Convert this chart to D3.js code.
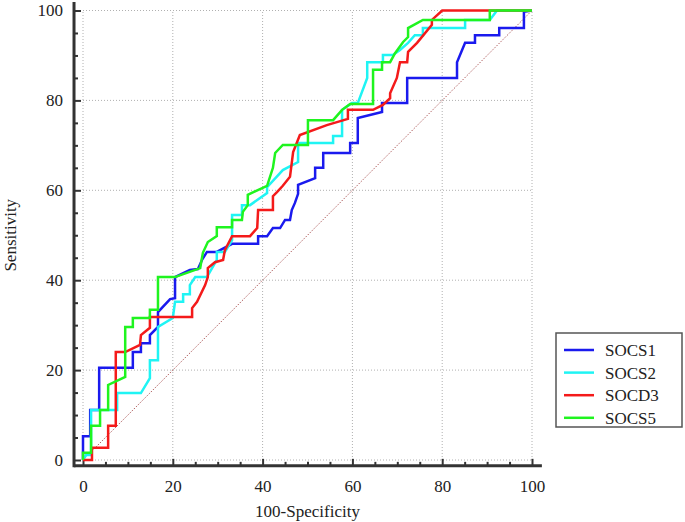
<!DOCTYPE html>
<html>
<head>
<meta charset="utf-8">
<script src="https://cdn.jsdelivr.net/npm/d3@7"></script>
<style>
  body { margin: 0; background: #fff; }
  text { font-family: "Liberation Serif", "Times New Roman", serif; fill: #222; }
</style>
</head>
<body>
<svg width="685" height="522"></svg>
<script>
// ROC curves, points are [100-Specificity, Sensitivity]
const socs1 = [[0,0],[0,5.3],[1.6,5.3],[1.6,11.1],[3.6,11.1],[3.6,20.5],[11.1,20.5],[11.1,24],[12.9,24],[12.9,26],[14.9,26],[14.9,27.8],[16.7,29.6],[16.7,32.9],[19.4,35.8],[20.5,36],[20.5,40.7],[23.8,42.3],[25.6,42.5],[26.5,44.5],[27.6,46.3],[29.8,46.3],[33.2,48.1],[39,48.1],[39,49.8],[41,49.8],[42.3,51.6],[43.9,51.6],[45,53.4],[46.1,53.4],[46.5,55.6],[47.2,57.2],[47.9,59.2],[47.9,61.2],[51.7,62.7],[51.7,65],[53.5,65],[53.5,68.3],[59.5,68.3],[59.5,70.5],[61.2,70.5],[61.2,76.1],[66.6,77.4],[66.6,79.4],[72.2,79.4],[72.2,85],[83.3,85],[83.3,88.5],[85.1,92.8],[87.3,92.8],[87.3,94.5],[92.7,94.5],[92.7,96.1],[98.2,96.1],[98.2,99.7],[100,100]];
const socs2 = [[0,0],[0.7,1.1],[1.8,1.1],[1.8,11.1],[7.6,11.1],[7.6,14.9],[12.9,14.9],[14.9,18.2],[14.9,22.2],[16.7,22.2],[16.7,29.6],[20,31.6],[20.5,35.2],[22.3,35.2],[22.3,36.9],[23.8,36.9],[23.8,38.9],[25,40.7],[27.6,40.7],[29.8,44.5],[29.8,46.3],[31.6,46.3],[33.2,48.9],[33.2,54.5],[35.4,54.5],[35.4,56.7],[37.2,56.7],[41,59.4],[41,60.7],[44.5,64.5],[47.9,66.3],[47.9,70.5],[55.7,70.5],[55.7,72.1],[57.7,72.1],[57.7,77.9],[59.9,79.4],[61.2,79.4],[63.3,85],[63.3,88.5],[66.8,88.5],[66.8,90.1],[69,90.1],[70.6,91.2],[72.4,92.8],[73.9,94.5],[75.7,94.5],[75.7,96.1],[85.1,96.1],[85.1,97.9],[90.6,97.9],[92.2,100],[100,100]];
const socd3 = [[0,0],[2,0],[2,2.7],[5.6,2.7],[5.6,7.6],[7.3,7.6],[7.3,24],[9.4,24],[12.7,25.6],[12.9,27.8],[14.9,29.4],[14.9,31.8],[24.3,31.8],[24.3,33.8],[25.4,35.2],[27.2,38.9],[27.8,40.7],[27.8,42.7],[29.4,44],[31.2,44.5],[31.6,46.7],[33.2,49.8],[37.2,49.8],[38.8,51.6],[39,55.6],[42.3,55.6],[42.3,58.7],[43.2,59.6],[44.5,61],[46.1,63],[46.8,68.5],[48.3,72.3],[54.3,74.5],[59,75.9],[59,77.9],[64.6,77.9],[66.8,79],[68.4,80.5],[68.4,81.6],[69.9,85],[70.6,88.5],[72.2,88.5],[72.4,90.8],[74.4,92.8],[77.7,96.8],[77.7,97.9],[80,100],[100,100]];
const socs5 = [[0,0],[0,1.6],[1.8,1.6],[1.8,7.6],[3.8,7.6],[3.8,11.1],[5.6,11.1],[5.6,16.7],[9.4,18.5],[9.4,29.6],[11.1,29.6],[11.1,31.6],[14.9,31.6],[14.9,33.4],[16.7,33.4],[16.7,40.7],[20.5,40.7],[26.1,42.7],[26.7,46.1],[27.8,48.5],[29.8,49.8],[29.8,51.8],[33.2,51.8],[33.2,53.4],[35.4,53.4],[35.6,55.2],[36.7,56.7],[36.7,59],[41,61],[42.3,65],[42.8,68.3],[44.5,70.1],[50.1,70.1],[50.1,75.6],[55.7,75.6],[57.7,77.9],[59.5,79.2],[64.6,79.2],[64.6,86.8],[66.6,86.8],[66.6,88.5],[68.4,88.5],[69.5,90.5],[71.3,93],[72.4,94.1],[72.4,96.1],[75.7,97.9],[90.6,97.9],[90.6,100],[100,100]];

const seriesNames = ['SOCS1', 'SOCS2', 'SOCD3', 'SOCS5'];
const seriesData = [socs1, socs2, socd3, socs5];
const seriesColors = ['#1a1aee', '#1ff4f4', '#f41a1a', '#1ff41f'];
const majorTicks = [0, 20, 40, 60, 80, 100];
const minorTicks = d3.range(0, 101, 5).filter(v => v % 20 !== 0);

const svg = d3.select('svg');
const x = d3.scaleLinear().domain([0, 100]).range([83, 532]);
const y = d3.scaleLinear().domain([0, 100]).range([460, 10.5]);

// dotted grid
const grid = svg.append('g').attr('class', 'grid')
  .attr('stroke', '#b0b0b0').attr('stroke-width', 1).attr('stroke-dasharray', '1,2');
grid.selectAll('.gx').data(majorTicks).enter().append('line')
  .attr('x1', d => x(d)).attr('x2', d => x(d)).attr('y1', y(0)).attr('y2', y(100));
grid.selectAll('.gy').data(majorTicks).enter().append('line')
  .attr('x1', x(0)).attr('x2', x(100)).attr('y1', d => y(d)).attr('y2', d => y(d));

// diagonal
svg.append('line')
  .attr('x1', x(0)).attr('y1', y(0)).attr('x2', x(100)).attr('y2', y(100))
  .attr('stroke', '#b06060').attr('stroke-width', 1).attr('stroke-dasharray', '1.5,1.5');

// axes (ticks point inward)
const xAxisY = y(-1.3);
const yAxisX = x(-2);

svg.append('g').attr('transform', `translate(0,${xAxisY})`)
  .call(d3.axisBottom(x).tickValues(majorTicks).tickSize(-7).tickPadding(14).tickFormat(d3.format('d')));
svg.append('g').attr('transform', `translate(0,${xAxisY})`)
  .call(d3.axisBottom(x).tickValues(minorTicks).tickSize(-4).tickFormat(''));

svg.append('g').attr('transform', `translate(${yAxisX},0)`)
  .call(d3.axisLeft(y).tickValues(majorTicks).tickSize(-7).tickPadding(11).tickFormat(d3.format('d')));
svg.append('g').attr('transform', `translate(${yAxisX},0)`)
  .call(d3.axisLeft(y).tickValues(minorTicks).tickSize(-4).tickFormat(''));

svg.selectAll('.domain').remove();
svg.selectAll('.tick line').attr('stroke', '#333').attr('stroke-width', 2);
svg.selectAll('.tick text').style('font-size', '17px').style('font-family', '"Liberation Serif", "Times New Roman", serif').attr('fill', '#222');

svg.append('line').attr('x1', yAxisX).attr('x2', x(102.2)).attr('y1', xAxisY).attr('y2', xAxisY)
  .attr('stroke', '#333').attr('stroke-width', 3);
svg.append('line').attr('x1', yAxisX).attr('x2', yAxisX).attr('y1', xAxisY + 1.5).attr('y2', y(101.9))
  .attr('stroke', '#333').attr('stroke-width', 3);

// curves
const line = d3.line().x(d => x(d[0])).y(d => y(d[1]));
svg.append('g').attr('class', 'curves')
  .selectAll('path')
  .data(seriesData)
  .enter().append('path')
  .attr('d', line)
  .attr('fill', 'none')
  .attr('stroke', (d, i) => seriesColors[i])
  .attr('stroke-width', 2.5)
  .attr('stroke-linejoin', 'miter');

// axis titles
svg.append('text').attr('x', x(50)).attr('y', 517).attr('text-anchor', 'middle')
  .style('font-size', '17px').text('100-Specificity');
svg.append('text').attr('transform', `translate(16,${y(50)}) rotate(-90)`).attr('text-anchor', 'middle')
  .style('font-size', '17px').text('Sensitivity');

// legend
const legend = svg.append('g').attr('class', 'legend');
legend.append('rect').attr('x', 556).attr('y', 333).attr('width', 126).attr('height', 94)
  .attr('fill', '#fff').attr('stroke', '#555').attr('stroke-width', 1.5);
const items = legend.selectAll('g.item').data(seriesNames).enter().append('g')
  .attr('transform', (d, i) => `translate(0,${350 + i * 22.6})`);
items.append('line').attr('x1', 564).attr('x2', 594).attr('y1', 0).attr('y2', 0)
  .attr('stroke', (d, i) => seriesColors[i]).attr('stroke-width', 2.5);
items.append('text').attr('x', 605).attr('y', 6).style('font-size', '17px').text(d => d);
</script>
</body>
</html>
